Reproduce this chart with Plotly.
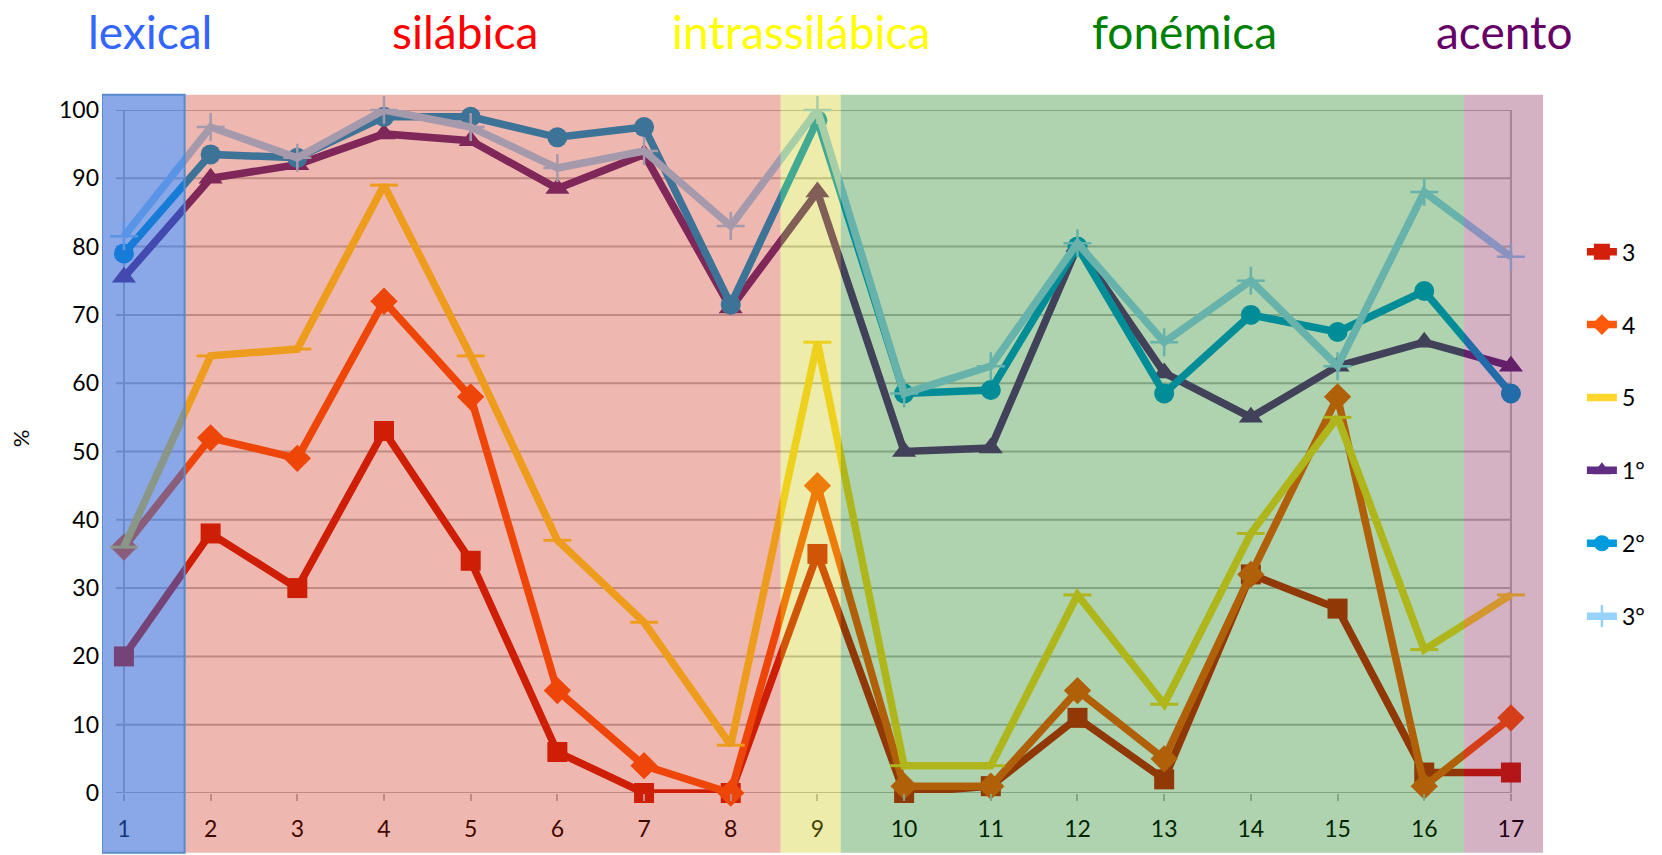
import plotly.graph_objects as go

# ---------------- data ----------------
categories = list(range(1, 18))
tick_labels = [str(c) for c in categories]
y_ticks = list(range(0, 101, 10))

serie_3 = [20, 38, 30, 53, 34, 6, 0, 0, 35, 0, 1, 11, 2, 32, 27, 3, 3]
serie_4 = [36, 52, 49, 72, 58, 15, 4, 0, 45, 1, 1, 15, 5, 32, 58, 1, 11]
serie_5 = [36, 64, 65, 89, 64, 37, 25, 7, 66, 4, 4, 29, 13, 38, 55, 21, 29]
serie_1o = [75.5, 90, 92, 96.5, 95.5, 88.5, 93.5, 71, 88, 50, 50.5, 80, 61.5, 55, 62.5, 66, 62.5]
serie_2o = [79, 93.5, 93, 99, 99, 96, 97.5, 71.5, 98.5, 58.5, 59, 80, 58.5, 70, 67.5, 73.5, 58.5]
serie_3o = [81.5, 97.5, 93, 100, 97.5, 91.5, 94, 83, 100, 58.5, 62.5, 80.5, 66, 75, 62.5, 88, 78.5]

series_names = ["3", "4", "5", "1°", "2°", "3°"]
series_values = [serie_3, serie_4, serie_5, serie_1o, serie_2o, serie_3o]

region_names = ["lexical", "silábica", "intrassilábica", "fonémica", "acento"]

# ---------------- style ----------------
FONT = "Lato"
series_colors = ["#D2200A", "#FF5A0C", "#FFD72A", "#5F2D82", "#009BDC", "#96D2FA"]
series_symbols = ["square", "diamond", "line-ew-open", "triangle-up", "circle", "cross-thin-open"]
series_sizes = [20, 21, 20, 21, 20, 20]
series_mlw = [0, 0, 3, 0, 0, 2.5]

region_edges = [0.747, 1.70, 8.575, 9.27, 16.46, 17.37]
region_fill = ["rgb(42,97,213)", "rgb(200,26,0)", "rgb(200,197,0)", "rgb(0,113,0)", "rgb(113,0,57)"]
region_opacity = [0.55, 0.31, 0.33, 0.314, 0.30]
title_colors = ["#3366FF", "#FF0000", "#FFFF00", "#008000", "#660066"]
title_x = [1.305, 4.94, 8.81, 13.23, 16.93]
GRID = "#BDBDBD"

fig = go.Figure()

for name, vals, col, sym, sz, mlw in zip(series_names, series_values, series_colors,
                                          series_symbols, series_sizes, series_mlw):
    fig.add_trace(go.Scatter(
        x=categories, y=vals, name=name, mode="lines+markers",
        legendgroup=name, cliponaxis=False,
        line=dict(color=col, width=7.5),
        marker=dict(symbol=sym, size=sz, color=col,
                    line=dict(color=col, width=mlw)),
    ))

shapes = []
# horizontal grid lines (with the little tick stubs on the left)
for v in y_ticks:
    shapes.append(dict(type="line", layer="below", xref="x", yref="y",
                       x0=0.908, x1=categories[-1], y0=v, y1=v,
                       line=dict(color=GRID, width=2)))
# vertical border lines at first / last category
for c in (categories[0], categories[-1]):
    shapes.append(dict(type="line", layer="below", xref="x", yref="y",
                       x0=c, x1=c, y0=y_ticks[0], y1=y_ticks[-1],
                       line=dict(color=GRID, width=2)))
# translucent region overlays (drawn above the lines)
for i in range(len(region_names)):
    shapes.append(dict(type="rect", layer="above", xref="x", yref="paper",
                       x0=region_edges[i], x1=region_edges[i + 1],
                       y0=-0.0874, y1=1.0223,
                       fillcolor=region_fill[i], opacity=region_opacity[i],
                       line=dict(width=0)))
# border of the lexical block
shapes.append(dict(type="rect", layer="above", xref="x", yref="paper",
                   x0=region_edges[0], x1=region_edges[1], y0=-0.0874, y1=1.0223,
                   fillcolor="rgba(0,0,0,0)",
                   line=dict(color="rgb(88,138,205)", width=2)))

annotations = []
for name, col, xx in zip(region_names, title_colors, title_x):
    annotations.append(dict(text=name, x=xx, xref="x", y=1.1146, yref="paper",
                            showarrow=False, xanchor="center", yanchor="middle",
                            font=dict(family=FONT, size=46, color=col)))
annotations.append(dict(text="%", x=-0.056, xref="paper", y=0.52, yref="paper",
                        showarrow=False, textangle=-90,
                        xanchor="center", yanchor="middle",
                        font=dict(family=FONT, size=22, color="black")))

fig.update_layout(
    width=1662, height=855,
    margin=dict(l=102, r=115, t=110, b=62),
    paper_bgcolor="white", plot_bgcolor="white",
    font=dict(family=FONT, size=22, color="black"),
    shapes=shapes, annotations=annotations,
    showlegend=True,
    hovermode=False,
    legend=dict(x=1.027, xanchor="left", y=0.824, yanchor="top",
                font=dict(family=FONT, size=23, color="black"),
                tracegroupgap=40, itemwidth=30, bgcolor="rgba(0,0,0,0)"),
    xaxis=dict(range=[region_edges[0], region_edges[-1]], tickmode="array",
               tickvals=categories, ticktext=tick_labels,
               showgrid=False, zeroline=False, showline=False,
               ticks="outside", ticklen=7, tickwidth=1.5, tickcolor=GRID,
               ticklabelstandoff=8,
               tickfont=dict(family=FONT, size=23, color="black")),
    yaxis=dict(range=[y_ticks[0], y_ticks[-1]], tickmode="array", tickvals=y_ticks,
               showgrid=False, zeroline=False, showline=False, ticks="",
               ticklabelstandoff=2,
               tickfont=dict(family=FONT, size=23, color="black")),
)

fig.write_html("out.html", config={"displayModeBar": False},
               post_script="document.body.style.margin='0';")
